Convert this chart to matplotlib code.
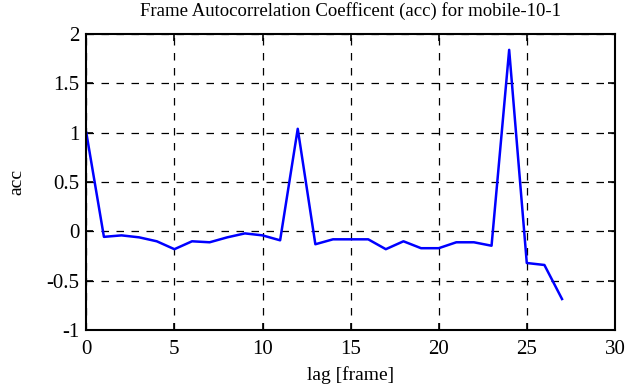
import matplotlib
matplotlib.use("Agg")
import matplotlib.pyplot as plt
import numpy as np

plt.rcParams['font.family'] = ['Liberation Serif', 'DejaVu Serif']

# lag (frames) and autocorrelation coefficient
lag = np.arange(28)
acc = [1.0, -0.055, -0.04, -0.06, -0.1, -0.18, -0.1, -0.11, -0.06, -0.02,
       -0.04, -0.09, 1.04, -0.13, -0.08, -0.08, -0.08, -0.18, -0.1, -0.17,
       -0.17, -0.11, -0.11, -0.145, 1.84, -0.32, -0.34, -0.685]

xticks = [0, 5, 10, 15, 20, 25, 30]
yticks = [-1, -0.5, 0, 0.5, 1, 1.5, 2]
yticklabels = ['-1', '-0.5', '0', '0.5', '1', '1.5', '2']

fig = plt.figure(figsize=(6.3, 3.87), dpi=100)
ax = fig.add_axes([0.137, 0.147, 0.839, 0.765])

ax.plot(lag, acc, color='#0000ff', linewidth=1.8)

ax.set_xlim(0, 30)
ax.set_ylim(-1, 2)
ax.set_xticks(xticks)
ax.set_yticks(yticks)
ax.set_yticklabels(yticklabels)
ax.grid(True, color='black', linestyle=(0, (6, 6)), linewidth=0.9)
ax.tick_params(direction='in', length=5, width=1.2, labelsize=15,
               top=True, right=True)
ax.tick_params(axis='x', pad=7)
ax.tick_params(axis='y', pad=5)
for s in ax.spines.values():
    s.set_linewidth(1.5)

ax.set_title('Frame Autocorrelation Coefficent (acc) for mobile-10-1',
             fontsize=13.5, pad=13)
ax.set_xlabel('lag [frame]', fontsize=14, labelpad=5)
ax.set_ylabel('acc', fontsize=14, labelpad=15)

fig.savefig('out.png', dpi=100)
